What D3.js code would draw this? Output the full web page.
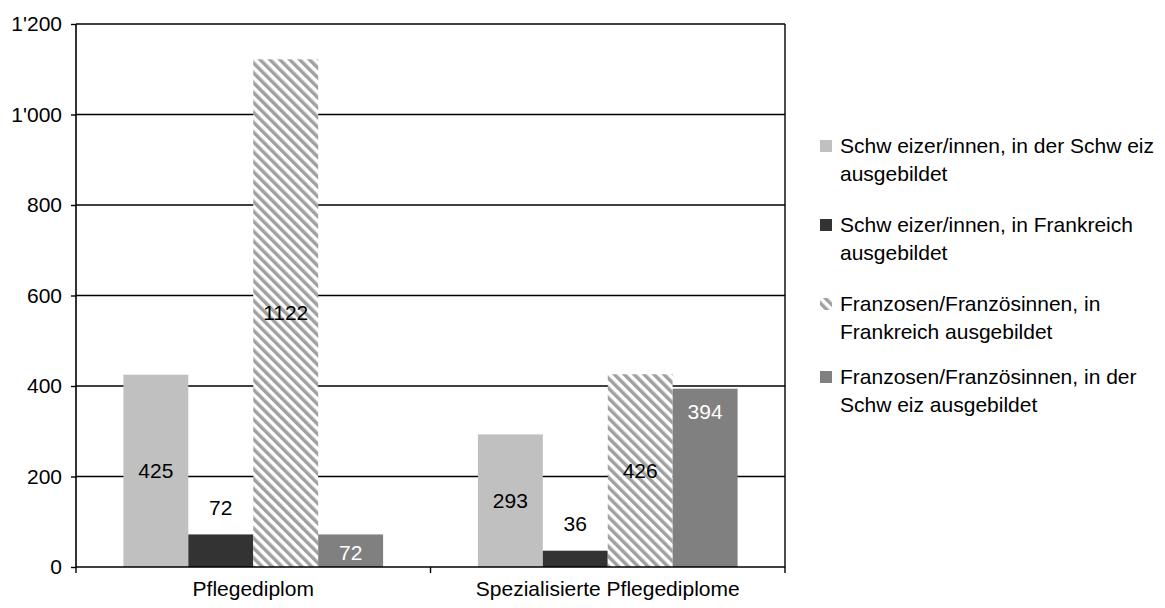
<!DOCTYPE html>
<html><head><meta charset="utf-8">
<script src="https://cdn.jsdelivr.net/npm/d3@7"></script>
<style>
html,body{margin:0;padding:0;background:#fff;}
svg{display:block;font-family:"Liberation Sans",Arial,sans-serif;}
</style></head>
<body>
<svg id="chart" width="1165" height="608"></svg>
<script>
const categories = ["Pflegediplom", "Spezialisierte Pflegediplome"];
const seriesNames = [
  ["Schw eizer/innen, in der Schw eiz", "ausgebildet"],
  ["Schw eizer/innen, in Frankreich", "ausgebildet"],
  ["Franzosen/Französinnen, in", "Frankreich ausgebildet"],
  ["Franzosen/Französinnen, in der", "Schw eiz ausgebildet"]
];
const s1 = [425, 293];
const s2 = [72, 36];
const s3 = [1122, 426];
const s4 = [72, 394];
const yTicks = [0, 200, 400, 600, 800, 1000, 1200];
const yTickLabels = ["0", "200", "400", "600", "800", "1'000", "1'200"];

const series = [s1, s2, s3, s4];
const fills = ["#c0c0c0", "#333333", "url(#hatch)", "#808080"];
const labelColor = ["#000", "#000", "#000", "#fff"];
const labelMode = ["center", "outside", "center", "insideEnd"];

const svg = d3.select("#chart");
const defs = svg.append("defs");
const P = 7;
const pat = defs.append("pattern").attr("id", "hatch").attr("patternUnits", "userSpaceOnUse")
  .attr("width", P).attr("height", P).attr("patternTransform", "rotate(-45)");
pat.append("rect").attr("width", P).attr("height", P).attr("fill", "#fff");
pat.append("rect").attr("width", P / 2).attr("height", P).attr("fill", "#a0a0a0");

const L = 76, R = 785, T = 24, B = 567;
const y = d3.scaleLinear().domain([0, 1200]).range([B, T]);
const x0 = d3.scaleBand().domain(categories).range([L, R]).padding(0);
const bw = x0.bandwidth();
const barW = bw / (4 + 1.46);
const x1 = d3.scaleBand().domain(d3.range(4)).range([0.73 * barW, bw - 0.73 * barW]).padding(0);

const FS = 21;

// gridlines
svg.append("g").selectAll("line").data(yTicks.slice(1)).join("line")
  .attr("x1", L).attr("x2", R).attr("y1", d => y(d)).attr("y2", d => y(d))
  .attr("stroke", "#000").attr("stroke-width", 1.4);
// right border
svg.append("line").attr("x1", R).attr("x2", R).attr("y1", T).attr("y2", B)
  .attr("stroke", "#000").attr("stroke-width", 1.4);

// bars
const g = svg.append("g");
series.forEach((vals, si) => {
  g.selectAll(null).data(vals).join("rect")
    .attr("x", (d, i) => x0(categories[i]) + x1(si))
    .attr("y", d => y(d))
    .attr("width", x1.bandwidth())
    .attr("height", d => B - y(d))
    .attr("fill", fills[si]);
});

// y axis
const yAxis = d3.axisLeft(y).tickValues(yTicks).tickFormat((d, i) => yTickLabels[i]).tickSize(5).tickPadding(9);
const ya = svg.append("g").attr("transform", `translate(${L},0)`).call(yAxis);
ya.select(".domain").attr("stroke", "#000").attr("stroke-width", 1.6).attr("d", `M0,${T}V${B}`);
ya.selectAll(".tick line").attr("stroke", "#000").attr("stroke-width", 1.4);
ya.selectAll("text").attr("font-size", FS).attr("fill", "#000").attr("font-family", "Liberation Sans, Arial, sans-serif");

// x axis
const xAxis = d3.axisBottom(x0).tickSize(0).tickPadding(14);
const xa = svg.append("g").attr("transform", `translate(0,${B})`).call(xAxis);
xa.select(".domain").attr("stroke", "#000").attr("stroke-width", 1.6).attr("d", `M${L},0H${R}`);
xa.selectAll("text").attr("font-size", FS).attr("fill", "#000").attr("font-family", "Liberation Sans, Arial, sans-serif");
const bounds = [L, ...categories.map(c => x0(c) + bw)];
xa.selectAll("line.sep").data(bounds).join("line").attr("class", "sep")
  .attr("x1", d => d).attr("x2", d => d).attr("y1", 0).attr("y2", 6)
  .attr("stroke", "#000").attr("stroke-width", 1.4);

// data labels
series.forEach((vals, si) => {
  g.selectAll(null).data(vals).join("text")
    .attr("x", (d, i) => x0(categories[i]) + x1(si) + x1.bandwidth() / 2)
    .attr("y", d => {
      const top = y(d), mid = (top + B) / 2;
      if (labelMode[si] === "center") return mid;
      if (labelMode[si] === "outside") return top - 27;
      return Math.min(top + 23, mid + 2);
    })
    .attr("dy", "0.35em")
    .attr("text-anchor", "middle")
    .attr("font-size", FS)
    .attr("fill", labelColor[si])
    .text(d => d);
});

// legend
const legendY = [146, 225, 304, 377];
const lg = svg.append("g");
seriesNames.forEach((lines, si) => {
  const cy = legendY[si];
  lg.append("rect").attr("x", 820).attr("y", cy - 6).attr("width", 12).attr("height", 12).attr("fill", fills[si]);
  lines.forEach((t, li) => {
    lg.append("text").attr("x", 840).attr("y", cy + li * 28).attr("dy", "0.35em")
      .attr("font-size", FS).attr("fill", "#000").text(t);
  });
});
</script>
</body></html>
